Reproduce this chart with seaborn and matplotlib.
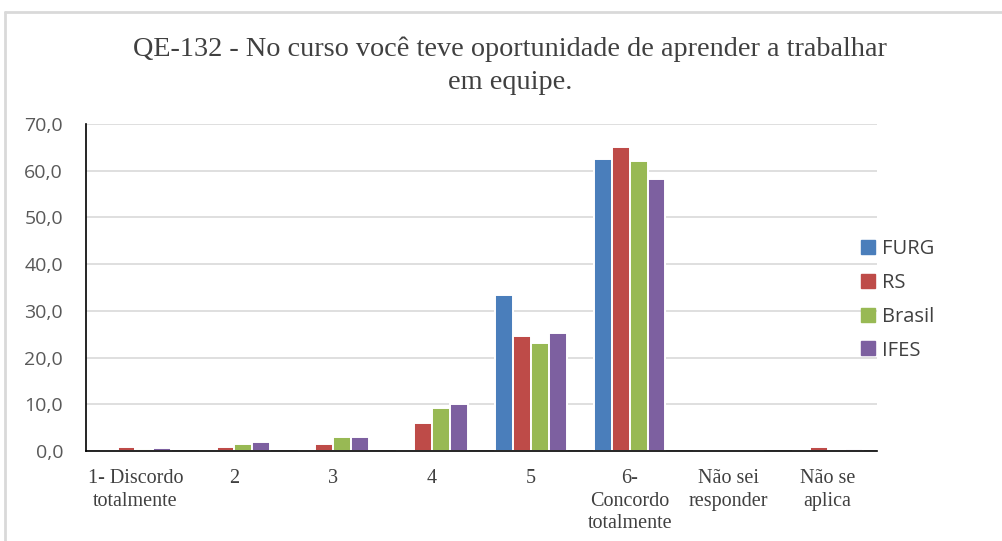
import numpy as np
import pandas as pd
import seaborn as sns
import matplotlib.pyplot as plt
from matplotlib.ticker import FuncFormatter
from matplotlib.lines import Line2D

categories = ["1- Discordo\ntotalmente", "2", "3", "4", "5",
              "6-\nConcordo\ntotalmente", "Não sei\nresponder", "Não se\naplica"]
series = ["FURG", "RS", "Brasil", "IFES"]
furg = [0.0, 0.0, 0.0, 0.0, 33.3, 62.5, 0.0, 0.0]
rs = [0.8, 0.8, 1.6, 5.9, 24.7, 65.0, 0.0, 0.8]
brasil = [0.4, 1.6, 2.9, 9.2, 23.2, 62.0, 0.0, 0.0]
ifes = [0.6, 1.9, 3.1, 10.0, 25.2, 58.2, 0.0, 0.4]
colors = ["#4A7EBB", "#BE4B48", "#98B954", "#7D60A0"]

title = "QE-132 - No curso você teve oportunidade de aprender a trabalhar\nem equipe."

# long format for seaborn
df = pd.DataFrame({
    "Categoria": categories * 4,
    "Serie": np.repeat(series, len(categories)),
    "Valor": furg + rs + brasil + ifes,
})

sns.set_theme(style="white")
fig = plt.figure(figsize=(10.02, 5.41), dpi=100)
ax = fig.add_axes([86 / 1002, 90 / 541, 791 / 1002, 327 / 541])

sns.barplot(data=df, x="Categoria", y="Valor", hue="Serie", order=categories,
            hue_order=series, palette=colors, width=0.72, ax=ax,
            edgecolor="white", linewidth=1.4, saturation=1, legend=False)

ax.set_ylim(0, 70)
ax.set_xlim(-0.5, len(categories) - 0.5)
ax.set_yticks(np.arange(0, 71, 10))
ax.yaxis.set_major_formatter(FuncFormatter(lambda v, p: f"{v:.1f}".replace(".", ",")))
ax.grid(axis="y", color="#d9d9d9", linewidth=1.2)
ax.set_axisbelow(True)
for s in ["top", "right"]:
    ax.spines[s].set_visible(False)
for s in ["left", "bottom"]:
    ax.spines[s].set_color("black")
    ax.spines[s].set_linewidth(1.2)
ax.set_xlabel("")
ax.set_ylabel("")
ax.tick_params(axis="y", labelsize=14, labelcolor="#595959", pad=16.5, length=0)
ax.tick_params(axis="x", length=0, pad=13)
for lbl in ax.get_yticklabels():
    lbl.set_family("Open Sans")
for lbl in ax.get_xticklabels():
    lbl.set_family("Liberation Serif")
    lbl.set_fontsize(14.5)
    lbl.set_color("#404040")
    lbl.set_linespacing(1.25)
    lbl.set_verticalalignment("top")

handles = [Line2D([], [], marker="s", linestyle="", markersize=10,
                  markerfacecolor=c, markeredgecolor=c) for c in colors]
fig.legend(handles, series, loc="center left", bbox_to_anchor=(860 / 1002, 1 - 300 / 541),
           frameon=False, handlelength=0.8, handletextpad=0.3, labelspacing=0.68,
           borderpad=0, borderaxespad=0,
           prop={"family": "Open Sans", "size": 14.5}, labelcolor="#404040")

fig.text(0.509, 1 - 66 / 541, title, ha="center", va="center",
         family="Liberation Serif", fontsize=20.3, color="#404040", linespacing=1.42)

# outer chart border
fig.add_artist(Line2D([5 / 1002, 5 / 1002], [0, 1 - 12 / 541], transform=fig.transFigure,
                      color="#d9d9d9", linewidth=2))
fig.add_artist(Line2D([5 / 1002, 1], [1 - 12 / 541, 1 - 12 / 541], transform=fig.transFigure,
                      color="#d9d9d9", linewidth=2))

fig.savefig("out.png", dpi=100)
